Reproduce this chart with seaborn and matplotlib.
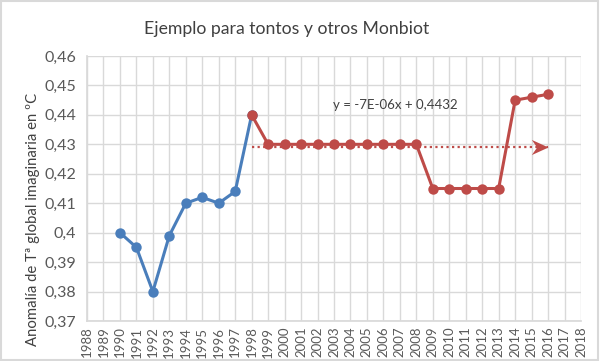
import matplotlib
matplotlib.use("Agg")
import matplotlib.pyplot as plt
import seaborn as sns
import pandas as pd
from matplotlib.ticker import FuncFormatter, MultipleLocator
from matplotlib.path import Path

blue_years = [1990, 1991, 1992, 1993, 1994, 1995, 1996, 1997, 1998]
blue_vals = [0.400, 0.395, 0.380, 0.399, 0.410, 0.412, 0.410, 0.414, 0.440]
red_years = list(range(1998, 2017))
red_vals = [0.440, 0.430, 0.430, 0.430, 0.430, 0.430, 0.430, 0.430, 0.430, 0.430, 0.430,
            0.415, 0.415, 0.415, 0.415, 0.415, 0.445, 0.446, 0.447]
trend_years = [1998, 2016]
trend_vals = [0.4291, 0.4291]
title = "Ejemplo para tontos y otros Monbiot"
ylabel = "Anomalía de Tª global imaginaria en ºC"
equation = "y = -7E-06x + 0,4432"

sns.set_theme(style="whitegrid")
plt.rcParams['font.family'] = ['Lato', 'DejaVu Sans']

W, H = 600, 361
fig = plt.figure(figsize=(W/100, H/100), dpi=100)
L, R, T, B = 87, 581, 56, 321
ax = fig.add_axes([L/W, 1 - B/H, (R-L)/W, (B-T)/H])

blue = "#4a7ebb"
red = "#be4b48"
df_b = pd.DataFrame({"year": blue_years, "val": blue_vals})
df_r = pd.DataFrame({"year": red_years, "val": red_vals})
ax.plot(trend_years, trend_vals, color=red, lw=1.6, ls=(0, (1, 1.5)), zorder=2)
arrow = Path([(0, 0), (-2.2, 1), (-1.5, 0), (-2.2, -1), (0, 0)],
             [Path.MOVETO, Path.LINETO, Path.LINETO, Path.LINETO, Path.CLOSEPOLY])
ax.plot([trend_years[1]], [trend_vals[1]], marker=arrow, markersize=24, color=red,
        markeredgewidth=0, ls="none", zorder=2)
sns.lineplot(data=df_b, x="year", y="val", ax=ax, color=blue, lw=2.2,
             marker="o", markersize=7.5, markeredgewidth=0, zorder=3)
sns.lineplot(data=df_r, x="year", y="val", ax=ax, color=red, lw=2.2,
             marker="o", markersize=7.5, markeredgewidth=0, zorder=4)

ax.set_xlim(1988, 2018)
ax.set_ylim(0.37, 0.46)
ax.xaxis.set_major_locator(MultipleLocator(1))
ax.yaxis.set_major_locator(MultipleLocator(0.01))
ax.xaxis.set_major_formatter(FuncFormatter(lambda v, p: f"{int(round(v))}"))
def yfmt(v, p):
    s = f"{v:.2f}".rstrip("0")
    return s.replace(".", ",")
ax.yaxis.set_major_formatter(FuncFormatter(yfmt))
ax.tick_params(axis="x", labelrotation=90, labelsize=9.5, colors="#595959", pad=4, length=0)
ax.tick_params(axis="y", labelsize=11.5, colors="#595959", pad=8, length=0)
ax.grid(True, color="#d9d9d9", lw=1)
for s in ["top", "right"]:
    ax.spines[s].set_visible(False)
ax.spines["left"].set_color("#d9d9d9")
ax.spines["bottom"].set_color("#d9d9d9")
ax.set_xlabel("")
ax.set_ylabel(ylabel, color="#404040", fontsize=10.7)
ax.yaxis.set_label_coords(-47/(R-L), 1 - (219-T)/(B-T))
ax.text(2006.7, 0.4434, equation, fontsize=9.5, color="#404040", va="center", ha="center")

fig.text(287/W, 1 - 29/H, title, ha="center", va="center", fontsize=12.7, color="#404040")
fig.patches.append(plt.Rectangle((0.002, 0.003), 0.994, 0.994, transform=fig.transFigure,
                                 fill=False, edgecolor="#d9d9d9", lw=1.5))
fig.savefig("out.png", dpi=100)
